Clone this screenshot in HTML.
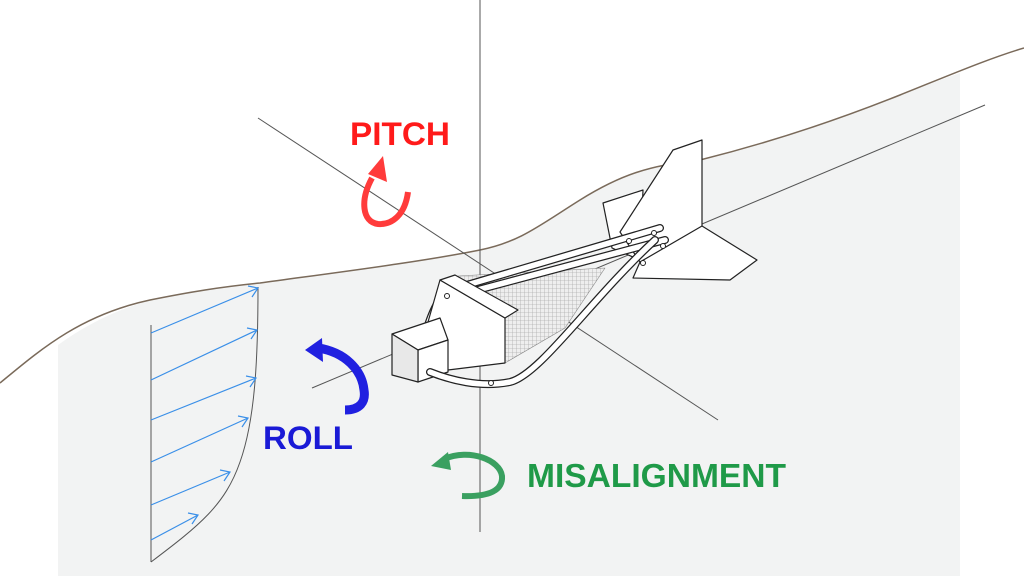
<!DOCTYPE html>
<html><head><style>
html,body{margin:0;padding:0;background:#fff}
svg{display:block}
text{font-family:"Liberation Sans",sans-serif;font-weight:bold}
</style></head><body>
<svg width="1024" height="576" viewBox="0 0 1024 576" xmlns="http://www.w3.org/2000/svg">
<defs>
<pattern id="mesh" width="4" height="4" patternUnits="userSpaceOnUse">
<rect width="4" height="4" fill="#eee"/><path d="M0 0H4M0 0V4" stroke="#999" stroke-width="0.6"/>
</pattern>
</defs>
<path d="M58 345 C120 300,180 290,260 283 C340 272,420 262,480 250 C520 242,540 225,580 200 C620 175,650 165,700 160 C780 140,850 115,900 95 C930 84,945 78,960 73 L960 576 L58 576 Z" fill="#f2f3f3"/>
<path d="M0 383 C40 350,80 315,150 300 C190 292,220 287,260 283 C340 272,420 262,480 250 C520 242,540 225,580 200 C620 175,650 165,700 160 C780 140,850 115,900 95 C950 75,990 58,1024 48" fill="none" stroke="#7a6a5a" stroke-width="1.5"/>
<line x1="480" y1="0" x2="480" y2="532" stroke="#555" stroke-width="1"/>
<line x1="258" y1="118" x2="718" y2="420" stroke="#555" stroke-width="1"/>
<line x1="312" y1="388" x2="985" y2="105" stroke="#555" stroke-width="1"/>
<line x1="151" y1="325" x2="151" y2="562" stroke="#555" stroke-width="1"/>
<path d="M258 287 C258 360,255 420,240 462 C225 505,200 525,151 562" fill="none" stroke="#555" stroke-width="1"/>
<g stroke="#3a8fe8" stroke-width="1.2" fill="none">
<line x1="151" y1="333" x2="258" y2="288"/><path d="M248 286 L258 288 L252 297"/>
<line x1="151" y1="380" x2="257" y2="330"/><path d="M247 328 L257 330 L251 339"/>
<line x1="151" y1="420" x2="256" y2="378"/><path d="M246 376 L256 378 L250 387"/>
<line x1="151" y1="462" x2="248" y2="418"/><path d="M238 416 L248 418 L242 427"/>
<line x1="151" y1="505" x2="230" y2="472"/><path d="M220 470 L230 472 L224 481"/>
<line x1="151" y1="540" x2="198" y2="515"/><path d="M188 513 L198 515 L192 524"/>
</g>
<g stroke="#222" stroke-width="1.2" stroke-linejoin="round">
<polygon points="603,203 643,190 640,260 612,248" fill="#fff"/>
<polygon points="620,232 673,150 702,140 702,228 640,262" fill="#fff"/>
<polygon points="702,226 757,260 730,280 633,278 640,262" fill="#fff"/>
<polygon points="458,276 605,268 565,328 505,363" fill="url(#mesh)" stroke="#888" stroke-width="0.6"/>
<path d="M425 335 C432 310,440 295,450 290 L660 228" fill="none" stroke="#222" stroke-width="8" stroke-linecap="round"/>
<path d="M425 335 C432 310,440 295,450 290 L660 228" fill="none" stroke="#fff" stroke-width="5.5" stroke-linecap="round"/>
<path d="M440 300 L665 240" fill="none" stroke="#222" stroke-width="8" stroke-linecap="round"/>
<path d="M440 300 L665 240" fill="none" stroke="#fff" stroke-width="5.5" stroke-linecap="round"/>
<polygon points="440,280 505,318 505,363 448,370 420,350" fill="#fff"/>
<polygon points="440,280 455,275 518,310 505,318" fill="#fff"/>
<polygon points="392,334 440,318 448,340 418,350" fill="#fff"/>
<polygon points="418,350 448,340 448,372 418,382" fill="#fff"/>
<polygon points="392,334 418,350 418,382 392,375" fill="#e8e8e8"/>
<path d="M430 372 C450 380,480 388,510 382 C540 375,590 300,655 240" fill="none" stroke="#222" stroke-width="8" stroke-linecap="round"/>
<path d="M430 372 C450 380,480 388,510 382 C540 375,590 300,655 240" fill="none" stroke="#fff" stroke-width="5.5" stroke-linecap="round"/>
<g fill="#fff" stroke-width="1">
<circle cx="447" cy="296" r="2.5"/><circle cx="491" cy="383" r="2.5"/><circle cx="629" cy="241" r="2.5"/>
<circle cx="654" cy="233" r="2.5"/><circle cx="663" cy="246" r="2.5"/><circle cx="643" cy="263" r="2.5"/>
</g>
</g>
<path d="M408 192 C405 215,392 225,378 224 C362 222,360 200,372 178" fill="none" stroke="#ff3b3b" stroke-width="6"/>
<polygon points="383,156 387,182 368,174" fill="#ff3b3b"/>
<path d="M318 348 C345 352,362 370,364 390 C366 402,360 410,345 410" fill="none" stroke="#2020e0" stroke-width="9"/>
<polygon points="305,350 322,338 323,362" fill="#2020e0"/>
<path d="M444 459 C470 448,500 460,502 476 C503 490,490 497,462 496" fill="none" stroke="#3aa060" stroke-width="6"/>
<polygon points="431,466 448,452 451,470" fill="#3aa060"/>
<text x="350" y="145" font-size="32" fill="#ff1a1a" textLength="100" lengthAdjust="spacingAndGlyphs">PITCH</text>
<text x="263" y="449" font-size="32" fill="#1a1ad6" textLength="90" lengthAdjust="spacingAndGlyphs">ROLL</text>
<text x="527" y="487" font-size="33" fill="#1f9a48" textLength="259" lengthAdjust="spacingAndGlyphs">MISALIGNMENT</text>
</svg>
</body></html>
